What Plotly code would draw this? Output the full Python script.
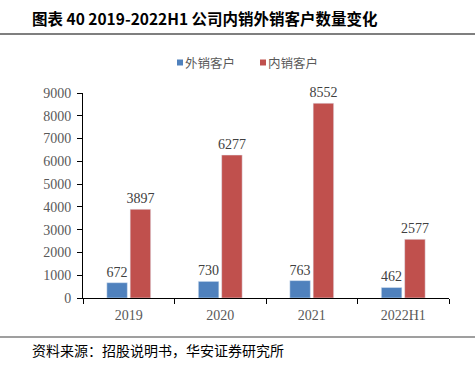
import plotly.graph_objects as go

categories = ["2019", "2020", "2021", "2022H1"]
export_clients = [672, 730, 763, 462]
domestic_clients = [3897, 6277, 8552, 2577]
y_ticks = [0, 1000, 2000, 3000, 4000, 5000, 6000, 7000, 8000, 9000]
series_names = ["外销客户", "内销客户"]
series_colors = ["#4F81BD", "#C0504D"]

W, H = 475, 367
L, R, T, B = 83, 26, 93, 69
pw, ph = W - L - R, H - T - B

def px(x):
    return (x - L) / pw

def py(y):
    return (H - B - y) / ph

serif = "Liberation Serif, Times New Roman, serif"
cjk = "Noto Sans CJK SC"

fig = go.Figure()
for name, vals, col in zip(series_names, [export_clients, domestic_clients], series_colors):
    fig.add_bar(x=categories, y=vals, name=name, marker_color=col,
                text=vals, textposition="outside", cliponaxis=False, constraintext="none",
                textfont=dict(family=serif, size=14, color="#404040"))

fig.update_layout(
    width=W, height=H,
    margin=dict(l=L, r=R, t=T, b=B),
    paper_bgcolor="white", plot_bgcolor="white",
    barmode="group", bargap=0.49, bargroupgap=0.12,
    showlegend=False,
    font=dict(family=serif, color="#595959"),
)
fig.update_xaxes(showline=True, linecolor="#000000", linewidth=1, ticks="outside",
                 tickson="boundaries", ticklen=5, tickcolor="#000000", ticklabelstandoff=4,
                 tickfont=dict(family=serif, size=14, color="#595959"), showgrid=False)
fig.update_yaxes(range=[0, 9000], tickvals=y_ticks, showline=True, linecolor="#000000",
                 linewidth=1, ticks="outside", ticklen=5, tickcolor="#000000", ticklabelstandoff=3,
                 tickfont=dict(family=serif, size=14, color="#595959"), showgrid=False,
                 zeroline=False)

# legend (manual)
leg = [(177, 185), (260, 268)]
for (sx, tx), name, col in zip(leg, series_names, series_colors):
    fig.add_shape(type="rect", xref="paper", yref="paper", x0=px(sx), x1=px(sx + 6),
                  y0=py(59.5), y1=py(65.5), fillcolor=col, line=dict(width=0))
    fig.add_annotation(text=name, xref="paper", yref="paper", x=px(tx - 2), y=py(62.5),
                       xanchor="left", yanchor="middle", showarrow=False,
                       font=dict(family=cjk, size=12.5, color="#595959"))

fig.add_annotation(text="<b>图表 40 2019-2022H1 公司内销外销客户数量变化</b>",
                   xref="paper", yref="paper", x=px(30), y=py(18), xanchor="left",
                   yanchor="middle", showarrow=False,
                   font=dict(family=cjk, size=15.5, color="#000000"))
fig.add_annotation(text="资料来源：招股说明书，华安证券研究所",
                   xref="paper", yref="paper", x=px(30), y=py(350), xanchor="left",
                   yanchor="middle", showarrow=False,
                   font=dict(family=cjk, size=14, color="#000000"))
fig.add_shape(type="line", xref="paper", yref="paper", x0=px(0), x1=px(W), y0=py(34), y1=py(34),
              line=dict(color="#7F7F7F", width=2))
fig.add_shape(type="line", xref="paper", yref="paper", x0=px(0), x1=px(W), y0=py(337), y1=py(337),
              line=dict(color="#7F7F7F", width=1.5))

fig.write_html("out.html", config={"displayModeBar": False},
               post_script="document.body.style.margin='0';document.body.style.padding='0';")
